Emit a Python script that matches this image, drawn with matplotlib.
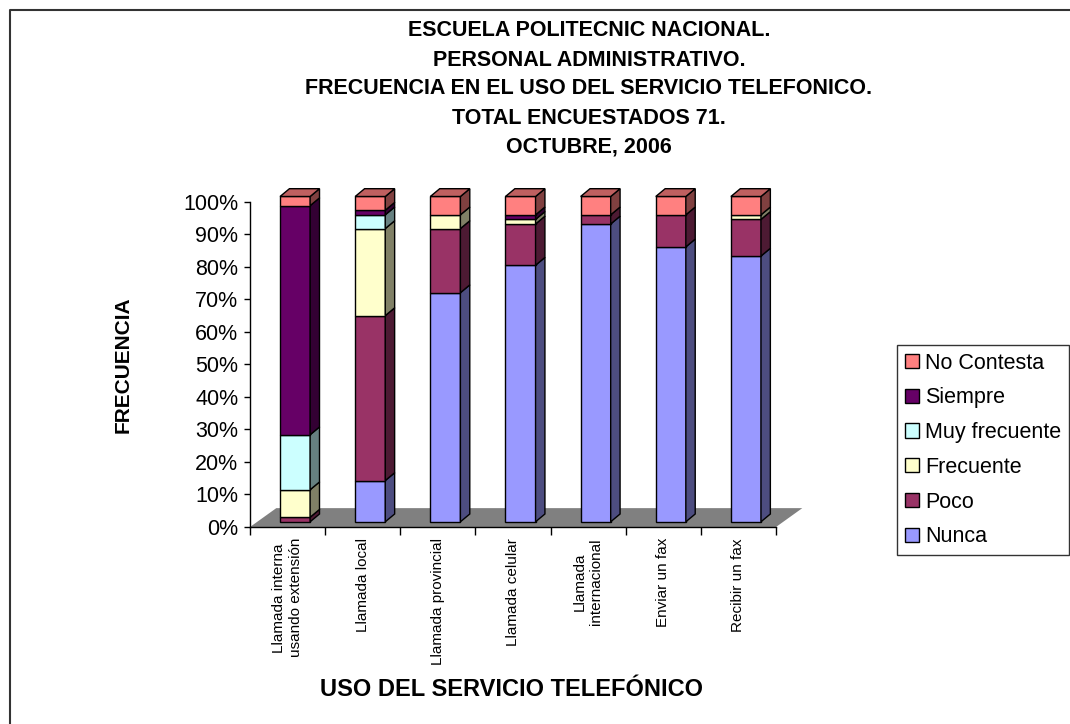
import numpy as np
import matplotlib
matplotlib.use('Agg')
import matplotlib.pyplot as plt
from matplotlib.patches import Polygon, Patch
from matplotlib.lines import Line2D
import matplotlib.colors as mcolors

plt.rcParams['font.family'] = ['Liberation Sans', 'DejaVu Sans']

categories = ['Llamada interna\nusando extensión', 'Llamada local', 'Llamada provincial',
              'Llamada celular', 'Llamada\ninternacional', 'Enviar un fax', 'Recibir un fax']
series_names = ['Nunca', 'Poco', 'Frecuente', 'Muy frecuente', 'Siempre', 'No Contesta']
# respuestas (total 71 encuestados)
nunca = [0, 9, 50, 56, 65, 60, 58]
poco = [1, 36, 14, 9, 2, 7, 8]
frecuente = [6, 19, 3, 1, 0, 0, 1]
muy_frecuente = [12, 3, 0, 0, 0, 0, 0]
siempre = [50, 1, 0, 1, 0, 0, 0]
no_contesta = [2, 3, 4, 4, 4, 4, 4]
colors = ['#9999FF', '#993366', '#FFFFCC', '#CCFFFF', '#660066', '#FF8080']
yticks = [0, 10, 20, 30, 40, 50, 60, 70, 80, 90, 100]

title_lines = ['ESCUELA POLITECNIC NACIONAL.', 'PERSONAL ADMINISTRATIVO.',
               'FRECUENCIA EN EL USO DEL SERVICIO TELEFONICO.', 'TOTAL ENCUESTADOS 71.',
               'OCTUBRE, 2006']

W, H = 1070, 724
fig = plt.figure(figsize=(W / 100, H / 100), dpi=100)
ax = fig.add_axes([250 / W, (H - 527) / H, 526 / W, 325.3 / H])

data = np.array([nunca, poco, frecuente, muy_frecuente, siempre, no_contesta], dtype=float)
pct = data / data.sum(axis=0) * 100
n = len(categories)
xc = np.arange(n) + 0.5

# 3D look (data units)
fdx, fdy = 0.35, 5.8      # floor depth
sdx, sdy = 0.10, 1.6      # bar set back from floor front
bdx, bdy = 0.125, 2.4     # bar depth
bw = 0.4


def shade(c, f):
    r, g, b = mcolors.to_rgb(c)
    return (r * f, g * f, b * f)


floor = Polygon([(0, 0), (n, 0), (n + fdx, fdy), (fdx, fdy)], closed=True,
                facecolor='#808080', edgecolor='none', zorder=1, clip_on=False)
ax.add_patch(floor)

bottom = np.zeros(n)
for s in range(len(series_names)):
    vals = pct[s]
    for i in range(n):
        if vals[i] <= 0:
            continue
        x0 = xc[i] - bw / 2 + sdx
        x1 = x0 + bw
        y0 = bottom[i] + sdy
        y1 = y0 + vals[i]
        ax.bar(x0, vals[i], bottom=y0, width=bw, align='edge', color=colors[s],
               edgecolor='black', linewidth=1, zorder=3, clip_on=False)
        side = Polygon([(x1, y0), (x1 + bdx, y0 + bdy), (x1 + bdx, y1 + bdy), (x1, y1)],
                       closed=True, facecolor=shade(colors[s], 0.5), edgecolor='black',
                       linewidth=1, zorder=3, clip_on=False)
        ax.add_patch(side)
        if abs(bottom[i] + vals[i] - 100) < 1e-6:
            top = Polygon([(x0, y1), (x1, y1), (x1 + bdx, y1 + bdy), (x0 + bdx, y1 + bdy)],
                          closed=True, facecolor=shade(colors[s], 0.75), edgecolor='black',
                          linewidth=1, zorder=3, clip_on=False)
            ax.add_patch(top)
    bottom += vals

ax.set_xlim(0, n)
ax.set_ylim(0, 100)
ax.set_yticks(yticks)
ax.set_yticklabels([f'{v}%' for v in yticks], fontsize=15.5)
ax.set_xticks(np.arange(n + 1))
ax.set_xticklabels([])
ax.set_xticks(xc, minor=True)
ax.set_xticklabels(categories, minor=True, rotation=90, fontsize=11,
                   va='top', ha='center', multialignment='center')
ax.tick_params(axis='x', which='major', length=6, width=1, direction='out')
ax.tick_params(axis='x', which='minor', length=0, pad=8)
ax.tick_params(axis='y', length=4.5, width=1, pad=4)
for sp in ['top', 'right']:
    ax.spines[sp].set_visible(False)
ax.spines['left'].set_linewidth(1)
ax.spines['bottom'].set_linewidth(1)
ax.patch.set_alpha(0)

for k, line in enumerate(title_lines):
    fig.text(589 / W, 1 - (31 + 29 * k) / H, line, ha='center', va='center',
             fontsize=15.5, fontweight='bold')

fig.text(123 / W, 1 - 365 / H, 'FRECUENCIA', rotation=90, ha='center', va='center',
         fontsize=15, fontweight='bold')
fig.text(512 / W, 1 - 689 / H, 'USO DEL SERVICIO TELEFÓNICO', ha='center', va='center',
         fontsize=17, fontweight='bold')

handles = [Patch(facecolor=colors[s], edgecolor='black', linewidth=1, label=series_names[s])
           for s in range(len(series_names) - 1, -1, -1)]
leg = fig.legend(handles=handles, loc='upper left', bbox_to_anchor=(897 / W, 1 - 345 / H),
                 frameon=True, fancybox=False, fontsize=15.5, handlelength=0.65,
                 handleheight=0.65, handletextpad=0.3, labelspacing=0.64,
                 borderpad=0.35, borderaxespad=0)
leg.get_frame().set_edgecolor('black')
leg.get_frame().set_linewidth(1)

fig.add_artist(Line2D([10 / W, 10 / W, 1], [0, 1 - 10 / H, 1 - 10 / H],
                      transform=fig.transFigure, color='#333333', linewidth=1.5))

fig.savefig('out.png', dpi=100)
